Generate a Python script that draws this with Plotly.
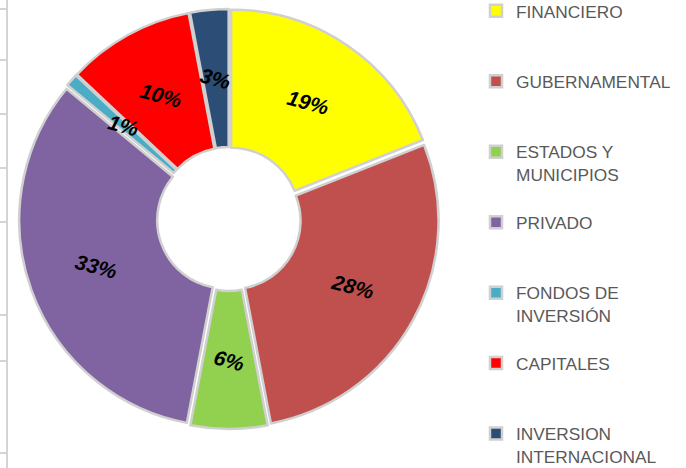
import math
import plotly.graph_objects as go

# ---- data ----
categories = ["FINANCIERO", "GUBERNAMENTAL", "ESTADOS Y<br>MUNICIPIOS", "PRIVADO",
              "FONDOS DE<br>INVERSIÓN", "CAPITALES", "INVERSION<br>INTERNACIONAL"]
values = [19, 28, 6, 33, 1, 10, 3]
colors = ["#FFFF00", "#C0504D", "#92D050", "#8064A2", "#4BACC6", "#FF0000", "#2C4D75"]

W, H = 686, 468
# pie geometry (pixels)
CX, CY, R_EXT = 229, 219, 210
PULL = 0.018
HOLE = 0.331
LABEL_R = 141


def pad3(label, last=False):
    n = label.count("<br>") + 1
    if last:
        return label
    return label + "<br> " * (3 - n)


legend_labels = [pad3(c, i == len(categories) - 1) for i, c in enumerate(categories)]

fig = go.Figure()
fig.add_trace(go.Pie(
    labels=legend_labels,
    values=values,
    sort=False,
    direction="clockwise",
    rotation=0,
    hole=HOLE,
    pull=[PULL] * len(values),
    marker=dict(colors=colors, line=dict(color="#d0d0d0", width=2.5)),
    textinfo="none",
    hoverinfo="label+percent",
    domain=dict(x=[(CX - R_EXT) / W, (CX + R_EXT) / W],
                y=[1 - (CY + R_EXT) / H, 1 - (CY - R_EXT) / H]),
))

# percentage labels placed at the mid-angle of each slice, derived from the values
total = sum(values)
cum = 0
annotations = []
for v in values:
    mid = (cum + v / 2) / total * 2 * math.pi
    cum += v
    px = CX + LABEL_R * math.sin(mid)
    py = CY - LABEL_R * math.cos(mid)
    annotations.append(dict(
        x=px / W, y=1 - py / H, xref="paper", yref="paper",
        text="<b><i>%d%%</i></b>" % round(100 * v / total),
        showarrow=False, textangle=15,
        font=dict(family="Liberation Sans", size=21, color="#000000"),
        xanchor="center", yanchor="middle",
    ))

# spreadsheet gridline remnants at the left edge
grid_rows = [9, 60, 114, 168, 222, 315, 361, 453]
shapes = [dict(type="line", xref="paper", yref="paper",
               x0=7 / W, x1=7 / W, y0=0, y1=1,
               line=dict(color="#d4d4d4", width=2))]
for gy in grid_rows:
    shapes.append(dict(type="line", xref="paper", yref="paper",
                       x0=0, x1=7 / W, y0=1 - gy / H, y1=1 - gy / H,
                       line=dict(color="#d4d4d4", width=2)))

fig.update_layout(
    width=W, height=H,
    margin=dict(l=0, r=0, t=0, b=0, autoexpand=False),
    paper_bgcolor="white",
    plot_bgcolor="white",
    showlegend=True,
    legend=dict(
        x=476 / W, y=1 + 7 / H, xanchor="left", yanchor="top",
        font=dict(family="Liberation Sans", size=17.3, color="#595959"),
        valign="top",
        bgcolor="rgba(0,0,0,0)",
        traceorder="normal",
        maxheight=1000,
    ),
    annotations=annotations,
    shapes=shapes,
)

fig.write_html(
    "out.html",
    config={"displayModeBar": False},
    post_script="document.body.style.margin='0';document.body.style.overflow='hidden';",
)
